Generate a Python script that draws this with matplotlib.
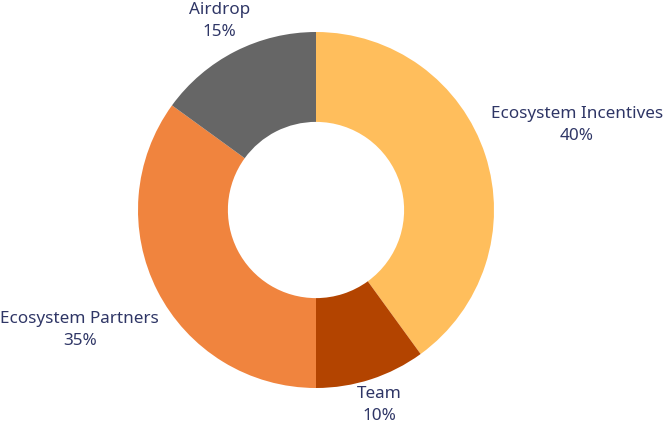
import numpy as np
import matplotlib
matplotlib.use("Agg")
from matplotlib import pyplot as plt

categories = ["Ecosystem Incentives", "Team", "Ecosystem Partners", "Airdrop"]
shares = [40, 10, 35, 15]
colors = ["#FFBE5C", "#B34400", "#F0843E", "#666666"]

text_color = "#2F3666"
plt.rcParams['font.family'] = ['Noto Sans', 'DejaVu Sans']

fig = plt.figure(figsize=(6.66, 4.24), dpi=100)
ax = fig.add_axes([0, 0, 1, 1])

wedges, _ = ax.pie(shares, colors=colors, startangle=90, counterclock=False,
                   radius=1.0, wedgeprops=dict(width=0.505, edgecolor="none"))

# radius 1 == 178 px, pie center at (316, 210) px from top-left
R = 178.0
ax.set_xlim(-316 / R, 350 / R)
ax.set_ylim(-214 / R, 210 / R)
ax.set_aspect("equal")
ax.axis("off")

# label distance per slice (outer radius units)
label_dist = [1.54, 1.15, 1.49, 1.19]
for w, name, val, d in zip(wedges, categories, shares, label_dist):
    ang = np.deg2rad((w.theta1 + w.theta2) / 2)
    x, y = d * np.cos(ang), d * np.sin(ang)
    ax.text(x, y, f"{name}\n{val}%", ha="center", va="center",
            color=text_color, fontsize=12.3, linespacing=1.5)

fig.savefig("out.png", dpi=100)
